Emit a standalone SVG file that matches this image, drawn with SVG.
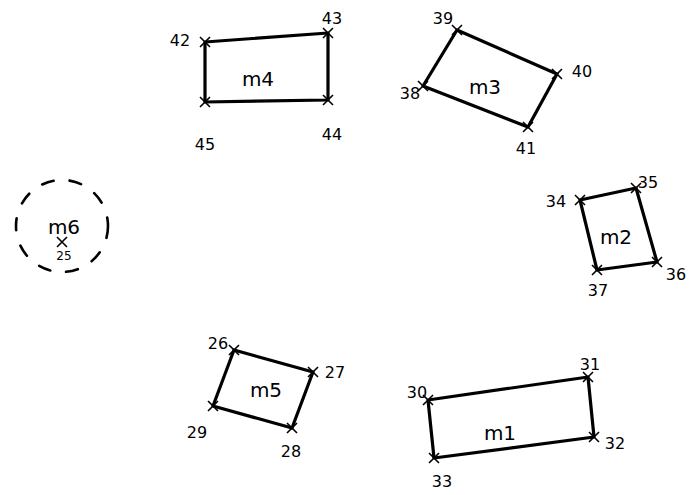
<svg xmlns="http://www.w3.org/2000/svg" width="690" height="495" viewBox="0 0 690 495">
<style>
.box{fill:none;stroke:#000;stroke-width:3.2;stroke-linejoin:round;stroke-linecap:round}
.mk{stroke:#000;stroke-width:1.6;fill:none}
.nm{font-family:"DejaVu Sans",sans-serif;font-size:20px;fill:#000;text-anchor:middle}
.pt{font-family:"DejaVu Sans",sans-serif;font-size:16px;fill:#000;text-anchor:middle}
.dash{fill:none;stroke:#000;stroke-width:2.6;stroke-dasharray:12 16;stroke-linecap:round}
</style>
<defs>
<path id="x" class="mk" d="M-5,-5L5,5M5,-5L-5,5"/>
</defs>
<rect width="690" height="495" fill="#fff"/>
<g id="connectors"></g>
<g id="m4">
<polygon class="box" points="205,42 328,33 328,100 205,102"/>
<use href="#x" x="205" y="42"/><use href="#x" x="328" y="33"/><use href="#x" x="328" y="100"/><use href="#x" x="205" y="102"/>
<text class="nm" x="258" y="86">m4</text>
<text class="pt" x="180" y="46">42</text>
<text class="pt" x="332" y="24">43</text>
<text class="pt" x="332" y="140">44</text>
<text class="pt" x="205" y="150">45</text>
</g>
<g id="m3">
<polygon class="box" points="457,30 557,74 528,127 423,86"/>
<use href="#x" x="457" y="30"/><use href="#x" x="557" y="74"/><use href="#x" x="528" y="127"/><use href="#x" x="423" y="86"/>
<text class="nm" x="485" y="94">m3</text>
<text class="pt" x="443" y="24">39</text>
<text class="pt" x="582" y="77">40</text>
<text class="pt" x="410" y="99">38</text>
<text class="pt" x="526" y="154">41</text>
</g>
<g id="m2">
<polygon class="box" points="580,200 636,188 657,262 597,270"/>
<use href="#x" x="580" y="200"/><use href="#x" x="636" y="188"/><use href="#x" x="657" y="262"/><use href="#x" x="597" y="270"/>
<text class="nm" x="616" y="244">m2</text>
<text class="pt" x="556" y="207">34</text>
<text class="pt" x="648" y="188">35</text>
<text class="pt" x="676" y="280">36</text>
<text class="pt" x="598" y="296">37</text>
</g>
<g id="m6">
<circle class="dash" cx="62" cy="226" r="46"/>
<text class="nm" x="64" y="234">m6</text>
<use href="#x" x="62" y="242"/>
<text class="pt" x="64" y="260" style="font-size:12px">25</text>
</g>
<g id="m5">
<polygon class="box" points="234,350 313,372 292,428 213,406"/>
<use href="#x" x="234" y="350"/><use href="#x" x="313" y="372"/><use href="#x" x="292" y="428"/><use href="#x" x="213" y="406"/>
<text class="nm" x="266" y="397">m5</text>
<text class="pt" x="218" y="349">26</text>
<text class="pt" x="335" y="378">27</text>
<text class="pt" x="291" y="457">28</text>
<text class="pt" x="197" y="438">29</text>
</g>
<g id="m1">
<polygon class="box" points="428,400 588,377 594,437 434,458"/>
<use href="#x" x="428" y="400"/><use href="#x" x="588" y="377"/><use href="#x" x="594" y="437"/><use href="#x" x="434" y="458"/>
<text class="nm" x="500" y="440">m1</text>
<text class="pt" x="417" y="398">30</text>
<text class="pt" x="590" y="370">31</text>
<text class="pt" x="615" y="449">32</text>
<text class="pt" x="442" y="487">33</text>
</g>
</svg>
